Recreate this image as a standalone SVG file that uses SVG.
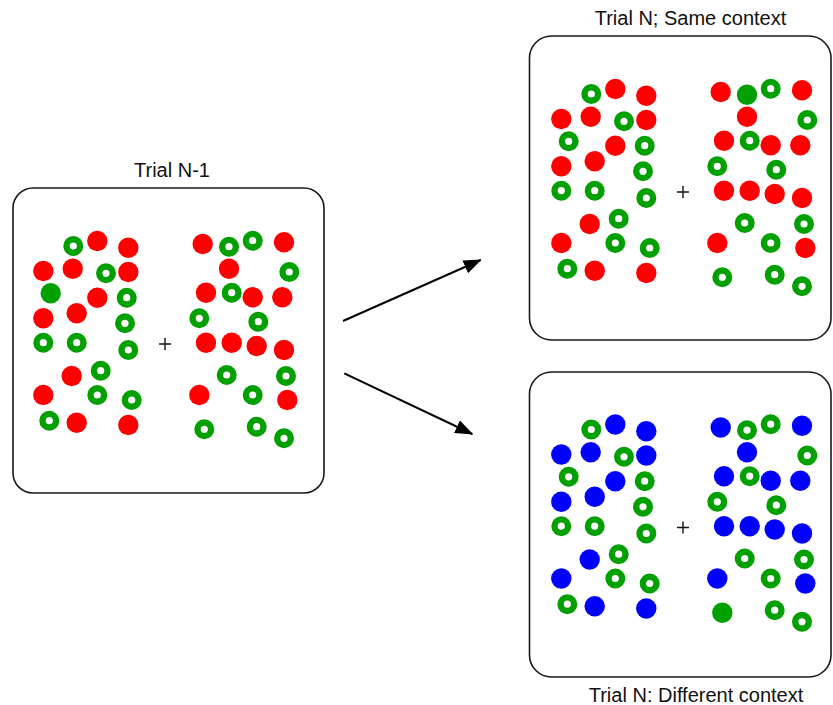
<svg xmlns="http://www.w3.org/2000/svg" xmlns:xlink="http://www.w3.org/1999/xlink" width="833" height="705" viewBox="0 0 833 705">
<style>
.box{fill:#fff;stroke:#1a1a1a;stroke-width:1.6}
.lbl{font-family:"Liberation Sans",Arial,sans-serif;font-size:20px;fill:#111;text-anchor:middle}
.dot{fill:currentColor}
.gs{fill:#00a000}
.ring{fill:none;stroke:#00a000;stroke-width:6.4}
.cross{stroke:#111;stroke-width:1.4}
.conn{stroke:#000;stroke-width:2;fill:none}
</style>
<defs>
<marker id="ah" markerUnits="userSpaceOnUse" markerWidth="18" markerHeight="14" refX="17" refY="7" orient="auto">
<path d="M0,0 L18,7 L0,14 z" fill="#000"/>
</marker>
<g id="pattern">
<g class="dot">
<circle cx="97.3" cy="241" r="10.2"/><circle cx="128.3" cy="247.7" r="10.2"/><circle cx="43.3" cy="271" r="10.2"/><circle cx="72.7" cy="268.7" r="10.2"/><circle cx="128.3" cy="272" r="10.2"/><circle cx="97.3" cy="297.7" r="10.2"/><circle cx="43.3" cy="318.3" r="10.2"/><circle cx="76.7" cy="313.3" r="10.2"/><circle cx="71.7" cy="376" r="10.2"/><circle cx="43.3" cy="395" r="10.2"/><circle cx="76.7" cy="422.7" r="10.2"/><circle cx="128.3" cy="425" r="10.2"/>
<circle cx="202.7" cy="244" r="10.2"/><circle cx="284" cy="242.3" r="10.2"/><circle cx="229" cy="268.7" r="10.2"/><circle cx="206" cy="292.7" r="10.2"/><circle cx="252.7" cy="297.3" r="10.2"/><circle cx="282.3" cy="297.3" r="10.2"/><circle cx="206" cy="342.7" r="10.2"/><circle cx="231.7" cy="342.7" r="10.2"/><circle cx="256.7" cy="346" r="10.2"/><circle cx="284" cy="350" r="10.2"/><circle cx="199.3" cy="395" r="10.2"/><circle cx="287.3" cy="400" r="10.2"/>
</g>
<g class="ring">
<circle cx="73.3" cy="246" r="6.8"/><circle cx="106" cy="273.3" r="6.8"/><circle cx="126.7" cy="297.7" r="6.8"/><circle cx="125" cy="323.3" r="6.8"/><circle cx="43.3" cy="342.7" r="6.8"/><circle cx="76.7" cy="342.7" r="6.8"/><circle cx="128.3" cy="350" r="6.8"/><circle cx="100.7" cy="370.7" r="6.8"/><circle cx="97.3" cy="395" r="6.8"/><circle cx="131.7" cy="400" r="6.8"/><circle cx="49.3" cy="420.7" r="6.8"/>
<circle cx="252.7" cy="240.7" r="6.8"/><circle cx="289.3" cy="272" r="6.8"/><circle cx="231.7" cy="292.7" r="6.8"/><circle cx="199.3" cy="318.3" r="6.8"/><circle cx="258.3" cy="321.7" r="6.8"/><circle cx="226.7" cy="375" r="6.8"/><circle cx="286" cy="376" r="6.8"/><circle cx="252.7" cy="395" r="6.8"/><circle cx="256.7" cy="426.7" r="6.8"/><circle cx="284" cy="438.3" r="6.8"/>
</g>
<path class="cross" d="M159,344 H171 M165,338 V350"/>
</g>
</defs>

<g id="node-trial-n-1">
<rect class="box" x="13" y="188" width="311" height="305" rx="20"/>
<text class="lbl" x="172" y="177">Trial N-1</text>
<use xlink:href="#pattern" href="#pattern" style="color:#ff0000"/>
<circle class="gs" cx="50.7" cy="293.3" r="10.2"/>
<circle class="ring" cx="229" cy="246.7" r="6.8"/>
<circle class="ring" cx="204.3" cy="429.3" r="6.8"/>
</g>

<g id="node-same-context">
<rect class="box" x="529.5" y="36" width="301.5" height="304" rx="22"/>
<text class="lbl" x="690.5" y="25">Trial N; Same context</text>
<g transform="translate(518,-152)">
<use xlink:href="#pattern" href="#pattern" style="color:#ff0000"/>
<circle class="ring" cx="50.7" cy="293.3" r="6.8"/>
<circle class="gs" cx="229" cy="246.7" r="10.2"/>
<circle class="ring" cx="204.3" cy="429.3" r="6.8"/>
</g>
</g>

<g id="node-different-context">
<rect class="box" x="529.5" y="372" width="301.5" height="305" rx="22"/>
<text class="lbl" x="696" y="702">Trial N: Different context</text>
<g transform="translate(518,183.5)">
<use xlink:href="#pattern" href="#pattern" style="color:#0000ff"/>
<circle class="ring" cx="50.7" cy="293.3" r="6.8"/>
<circle class="ring" cx="229" cy="246.7" r="6.8"/>
<circle class="gs" cx="204.3" cy="429.3" r="10.2"/>
</g>
</g>

<g id="connectors">
<line class="conn" x1="343" y1="321" x2="480.7" y2="260" marker-end="url(#ah)"/>
<line class="conn" x1="344.3" y1="373.3" x2="472.3" y2="434" marker-end="url(#ah)"/>
</g>
</svg>
